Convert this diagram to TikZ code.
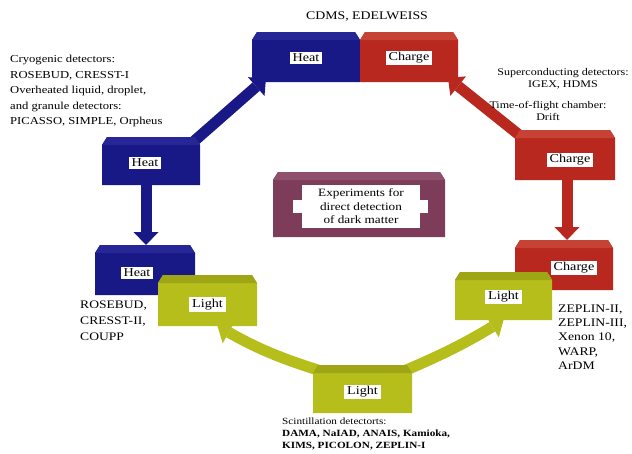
\documentclass[tikz,border=0pt]{standalone}
\usepackage{fontspec}
\setmainfont{Liberation Serif}[FakeStretch=1.18]
\usetikzlibrary{arrows.meta}

\definecolor{heatblue}{RGB}{24,24,134}
\definecolor{heattop}{RGB}{38,38,150}
\definecolor{chargered}{RGB}{184,40,30}
\definecolor{chargetop}{RGB}{198,66,52}
\definecolor{lightgreen}{RGB}{182,190,28}
\definecolor{lighttop}{RGB}{158,166,22}
\definecolor{goalplum}{RGB}{124,60,90}
\definecolor{goaltop}{RGB}{142,80,108}

\tikzset{
  slot/.style={inner sep=0pt, outer sep=0pt},
  tag/.style={fill=white, inner xsep=3pt, inner ysep=2pt, font=\fontsize{12}{14}\selectfont},
  note/.style={align=left, inner sep=0pt, font=\fontsize{10.7}{15.5}\selectfont},
  flow/.style={draw=#1, line width=11pt, -{Triangle[length=13pt, width=25pt, line width=0pt]}}
}

% face of a box with cut top corners and a top strip
\newcommand{\detbody}[3]{%
  \fill[#2] ([yshift=-8pt]#1.north west) -- ([xshift=5pt]#1.north west)
    -- ([xshift=-5pt]#1.north east) -- ([yshift=-8pt]#1.north east)
    -- (#1.south east) -- (#1.south west) -- cycle;
  \fill[#3] ([yshift=-8pt]#1.north west) -- ([xshift=5pt]#1.north west)
    -- ([xshift=-5pt]#1.north east) -- ([yshift=-8pt]#1.north east) -- cycle;
}

\begin{document}
\begin{tikzpicture}[x=1pt, y=-1pt]

    \useasboundingbox (0,0) rectangle (632,453);

    % Place the boxes (only their outlines, filled further down)
    \node[slot, minimum width=108pt, minimum height=50pt] (heatT) at (306,57) {};
    \node[slot, minimum width=98pt, minimum height=50pt] (chargeT) at (409,57) {};
    \node[slot, minimum width=98pt, minimum height=48pt] (heatM) at (151,161) {};
    \node[slot, minimum width=100pt, minimum height=50pt] (heatL) at (145,270) {};
    \node[slot, minimum width=99pt, minimum height=51pt] (lightL) at (207.5,300.5) {};
    \node[slot, minimum width=99pt, minimum height=48pt] (lightB) at (362.5,389) {};
    \node[slot, minimum width=97pt, minimum height=48pt] (lightR) at (503.5,296) {};
    \node[slot, minimum width=98pt, minimum height=50pt] (chargeL) at (564,265) {};
    \node[slot, minimum width=100pt, minimum height=50pt] (chargeM) at (565,155) {};
    \node[slot, minimum width=172pt, minimum height=65pt] (goal) at (359,204.5) {};

    % Arrows between the boxes
    \draw[flow=heatblue] ([xshift=-8pt,yshift=-6pt]heatM.north east) -- ([xshift=14pt,yshift=4pt]heatT.south west);
    \draw[flow=heatblue] ([xshift=-5pt]heatM.south) -- ([xshift=-5pt]heatM.south |- heatL.north);
    \draw[flow=chargered] ([xshift=8pt,yshift=-8pt]chargeM.north west) -- ([xshift=-10pt,yshift=4pt]chargeT.south east);
    \draw[flow=chargered] ([xshift=2pt]chargeM.south) -- ([xshift=2pt]chargeM.south |- chargeL.north);
    \draw[flow=lightgreen] ([xshift=8pt,yshift=-6pt]lightB.north west) to[bend left=6] ([xshift=10pt]lightL.south);
    \draw[flow=lightgreen] ([xshift=-8pt,yshift=-6pt]lightB.north east) to[bend right=4] (lightR.south);

    % Fill the boxes, back to front
    \detbody{heatT}{heatblue}{heattop}
    \detbody{chargeT}{chargered}{chargetop}
    \detbody{heatM}{heatblue}{heattop}
    \detbody{heatL}{heatblue}{heattop}
    \detbody{lightL}{lightgreen}{lighttop}
    \detbody{lightB}{lightgreen}{lighttop}
    \detbody{chargeL}{chargered}{chargetop}
    \detbody{lightR}{lightgreen}{lighttop}
    \detbody{chargeM}{chargered}{chargetop}
    \detbody{goal}{goalplum}{goaltop}

    % White tags on the boxes
    \node[tag] (heatT-t) at ([yshift=-1pt]heatT.center) {Heat};
    \node[tag] (chargeT-t) at ([yshift=-1pt]chargeT.center) {Charge};
    \node[tag] (heatM-t) at ([xshift=-6pt,yshift=-2pt]heatM.center) {Heat};
    \node[tag] (heatL-t) at ([xshift=-8pt,yshift=-3pt]heatL.center) {Heat};
    \node[tag] (lightL-t) at ([yshift=-4pt]lightL.center) {Light};
    \node[tag] (lightB-t) at ([yshift=-3pt]lightB.center) {Light};
    \node[tag] (lightR-t) at ([yshift=-1pt]lightR.center) {Light};
    \node[tag] (chargeL-t) at ([xshift=10pt,yshift=-3pt]chargeL.center) {Charge};
    \node[tag] (chargeM-t) at ([xshift=5pt,yshift=-5pt]chargeM.center) {Charge};

    % Centre tag, a white cross shape
    \fill[white] (293,200) rectangle (428,213);
    \node[fill=white, minimum width=118pt, minimum height=43pt, align=center, inner sep=0pt,
          font=\fontsize{11.2}{13.5}\selectfont] (goal-t) at (361,206.5)
          {Experiments for\\direct detection\\of dark matter};

    % Texts round the ring
    \node[font=\fontsize{11.7}{14}\selectfont, inner sep=0pt] (cdms) at (367,17) {CDMS, EDELWEISS};
    \node[note, anchor=west] (cryo) at (10,91)
        {Cryogenic detectors:\\ROSEBUD, CRESST-I\\Overheated liquid, droplet,\\and granule detectors:\\PICASSO, SIMPLE, Orpheus};
    \node[note, align=center, font=\fontsize{10.2}{12}\selectfont] (super) at (563,79)
        {Superconducting detectors:\\IGEX, HDMS};
    \node[note, align=center, font=\fontsize{10.2}{12}\selectfont] (tof) at (548,111)
        {Time-of-flight chamber:\\Drift};
    \node[note, anchor=west, font=\fontsize{11.5}{16}\selectfont] (rosebud) at (80,321)
        {ROSEBUD,\\CRESST-II,\\COUPP};
    \node[note, anchor=west, font=\fontsize{11.6}{14.3}\selectfont] (zeplin) at (558,337)
        {ZEPLIN-II,\\ZEPLIN-III,\\Xenon 10,\\WARP,\\ArDM};
    \node[note, anchor=west, font=\fontsize{9.5}{11.7}\selectfont] (scint) at (282,434)
        {Scintillation detectorts:\\\textbf{DAMA, NaIAD, ANAIS, Kamioka,}\\\textbf{KIMS, PICOLON, ZEPLIN-I}};

\end{tikzpicture}
\end{document}
